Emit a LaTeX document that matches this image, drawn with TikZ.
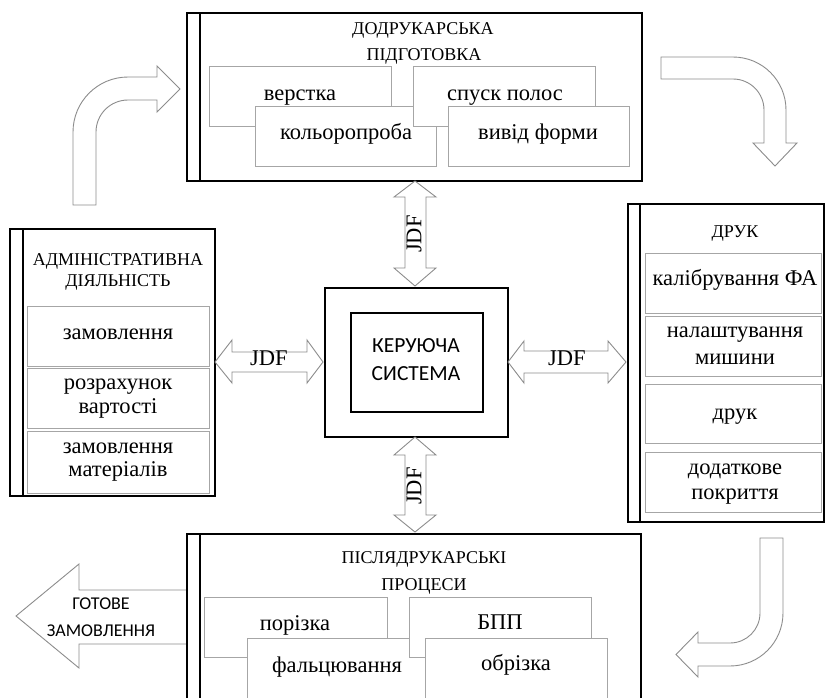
\documentclass[tikz,border=0pt]{standalone}
\usepackage{fontspec}
\setmainfont{Liberation Serif}
\newfontfamily\sansf{Carlito}
\begin{document}
\begin{tikzpicture}[x=1pt,y=-1pt,
  frame/.style={draw=black, line width=2.4pt, inner sep=0pt, anchor=north west},
  sub/.style={draw=black!35, line width=0.9pt, fill=white, inner sep=0pt, anchor=north west},
  garrow/.style={draw=black!45, line width=0.9pt, fill=white, line join=miter},
  ttl/.style={font=\fontsize{18}{20}\selectfont, inner sep=0pt, text height=0.5em, text depth=0pt},
  lbl/.style={font=\fontsize{22.5}{24}\selectfont, inner sep=0pt, text height=0.5em, text depth=0pt},
  jdf/.style={font=\fontsize{22.5}{24}\selectfont, inner sep=0pt, text height=0.66em, text depth=0pt},
  sns/.style={font=\sansf\fontsize{18}{20}\selectfont, inner sep=0pt, text height=0.6em, text depth=0pt},
  sbig/.style={font=\sansf\fontsize{21.5}{24}\selectfont, inner sep=0pt, text height=0.6em, text depth=0pt}]
\useasboundingbox (0,0) rectangle (825,697);
\clip (0,0) rectangle (825,697);

% ---------- curved flow arrows ----------
\draw[garrow] (73,205) -- (73,132) .. controls (73,101.6) and (97.6,77) .. (128,77)
  -- (157,77) -- (157,66) -- (180,89) -- (157,112) -- (157,100) -- (128,100)
  .. controls (110.3,100) and (96,114.3) .. (96,132) -- (96,205) -- cycle;
\draw[garrow] (661,57) -- (733,57) .. controls (762.3,57) and (786,80.7) .. (786,110)
  -- (786,143) -- (797,143) -- (775,166) -- (753,143) -- (764,143) -- (764,110)
  .. controls (764,92.9) and (750.1,79) .. (733,79) -- (661,79) -- cycle;
\draw[garrow] (760,538) -- (783,538) -- (783,613) .. controls (783,642.3) and (759.3,666) .. (730,666)
  -- (698,666) -- (698,677) -- (676,654.5) -- (698,632) -- (698,643) -- (730,643)
  .. controls (746.6,643) and (760,629.6) .. (760,613) -- cycle;

% ---------- ready order arrow ----------
\draw[garrow] (187,590) -- (79,590) -- (79,564) -- (16,616) -- (79,668) -- (79,644) -- (187,644);
\node[sns] (rdy1) at (101,606) {ГОТОВЕ};
\node[sns] (rdy2) at (101,633) {ЗАМОВЛЕННЯ};

% ---------- top box ----------
\node[frame, minimum width=455pt, minimum height=168pt] (pre) at (186,12) {};
\draw[line width=2.4pt] ([xshift=14pt]pre.north west) -- ([xshift=14pt]pre.south west);
\node[sub, minimum width=182pt, minimum height=60pt] (verst) at (209,66) {};
\node[sub, minimum width=181pt, minimum height=60pt] (kolor) at (255,106) {};
\node[sub, minimum width=182pt, minimum height=60pt] (spusk) at (413,66) {};
\node[sub, minimum width=181pt, minimum height=60pt] (vyvid) at (448,106) {};
\node[ttl] (preT1) at (423,32) {ДОДРУКАРСЬКА};
\node[ttl] (preT2) at (424,58) {ПІДГОТОВКА};
\node[lbl] at (300,98) {верстка};
\node[lbl] at (346,137) {кольоропроба};
\node[lbl] at (505,98) {спуск полос};
\node[lbl] at (538,137) {вивід форми};

% ---------- admin box ----------
\node[frame, minimum width=205pt, minimum height=267pt] (adm) at (9,228) {};
\draw[line width=2.4pt] ([xshift=14pt]adm.north west) -- ([xshift=14pt]adm.south west);
\node[sub, minimum width=182pt, minimum height=60pt] (zam) at (27,306) {};
\node[sub, minimum width=182pt, minimum height=60pt] (rozr) at (27,368) {};
\node[sub, minimum width=182pt, minimum height=62pt] (zmat) at (27,431) {};
\node[ttl] at (118,263) {АДМІНІСТРАТИВНА};
\node[ttl] at (118,284) {ДІЯЛЬНІСТЬ};
\node[lbl] at (118,337) {замовлення};
\node[lbl] at (118,387) {розрахунок};
\node[lbl] at (118,411) {вартості};
\node[lbl] at (118,451) {замовлення};
\node[lbl] at (118,474) {матеріалів};

% ---------- print box ----------
\node[frame, minimum width=196pt, minimum height=318pt] (print) at (627,203) {};
\draw[line width=2.4pt] ([xshift=13pt]print.north west) -- ([xshift=13pt]print.south west);
\node[sub, minimum width=176pt, minimum height=60pt] (kal) at (645,253) {};
\node[sub, minimum width=176pt, minimum height=60pt] (nal) at (645,316) {};
\node[sub, minimum width=176pt, minimum height=59pt] (dr) at (645,384) {};
\node[sub, minimum width=176pt, minimum height=60pt] (dod) at (645,452) {};
\node[ttl] at (735,235) {ДРУК};
\node[lbl] at (735,283) {калібрування ФА};
\node[lbl] at (735,335) {налаштування};
\node[lbl] at (735,362) {мишини};
\node[lbl] at (735,417) {друк};
\node[lbl] at (735,472) {додаткове};
\node[lbl] at (735,497) {покриття};

% ---------- post-press box ----------
\node[frame, minimum width=454pt, minimum height=190pt] (post) at (186,533) {};
\draw[line width=2.4pt] ([xshift=14pt]post.north west) -- ([xshift=14pt]post.south west);
\node[sub, minimum width=183pt, minimum height=60pt] (por) at (204,597) {};
\node[sub, minimum width=182pt, minimum height=90pt] (fal) at (247,638) {};
\node[sub, minimum width=182pt, minimum height=60pt] (bpp) at (409,597) {};
\node[sub, minimum width=182pt, minimum height=90pt] (obr) at (425,638) {};
\node[ttl] at (424,561) {ПІСЛЯДРУКАРСЬКІ};
\node[ttl] at (424,588) {ПРОЦЕСИ};
\node[lbl] at (295,628) {порізка};
\node[lbl] at (500,627) {БПП};
\node[lbl] at (337,670) {фальцювання};
\node[lbl] at (516,668) {обрізка};

% ---------- control system ----------
\node[frame, minimum width=183pt, minimum height=149pt] (ctrl) at (324,287) {};
\node[frame, minimum width=132pt, minimum height=99pt] (ctrlin) at (350,312) {};
\node[sbig] at (416,349) {КЕРУЮЧА};
\node[sbig] at (416,377) {СИСТЕМА};

% ---------- JDF double arrows ----------
\draw[garrow] (415,181) -- (436,197) -- (426,197) -- (426,268) -- (436,268) -- (415,286)
  -- (394,268) -- (405,268) -- (405,197) -- (394,197) -- cycle;
\node[jdf, rotate=90] at (418,234) {JDF};
\draw[garrow] (415,437) -- (436,455) -- (426,455) -- (426,515) -- (436,515) -- (415,532)
  -- (394,515) -- (405,515) -- (405,455) -- (394,455) -- cycle;
\node[jdf, rotate=90] at (418,486) {JDF};
\draw[garrow] (215,362) -- (232,340) -- (232,352) -- (307,352) -- (307,340) -- (323,362)
  -- (307,383) -- (307,372) -- (232,372) -- (232,383) -- cycle;
\node[jdf] at (269,362) {JDF};
\draw[garrow] (508,362) -- (524,341) -- (524,351) -- (608,351) -- (608,341) -- (626,362)
  -- (608,383) -- (608,373) -- (524,373) -- (524,383) -- cycle;
\node[jdf] at (567,362) {JDF};
\end{tikzpicture}
\end{document}
